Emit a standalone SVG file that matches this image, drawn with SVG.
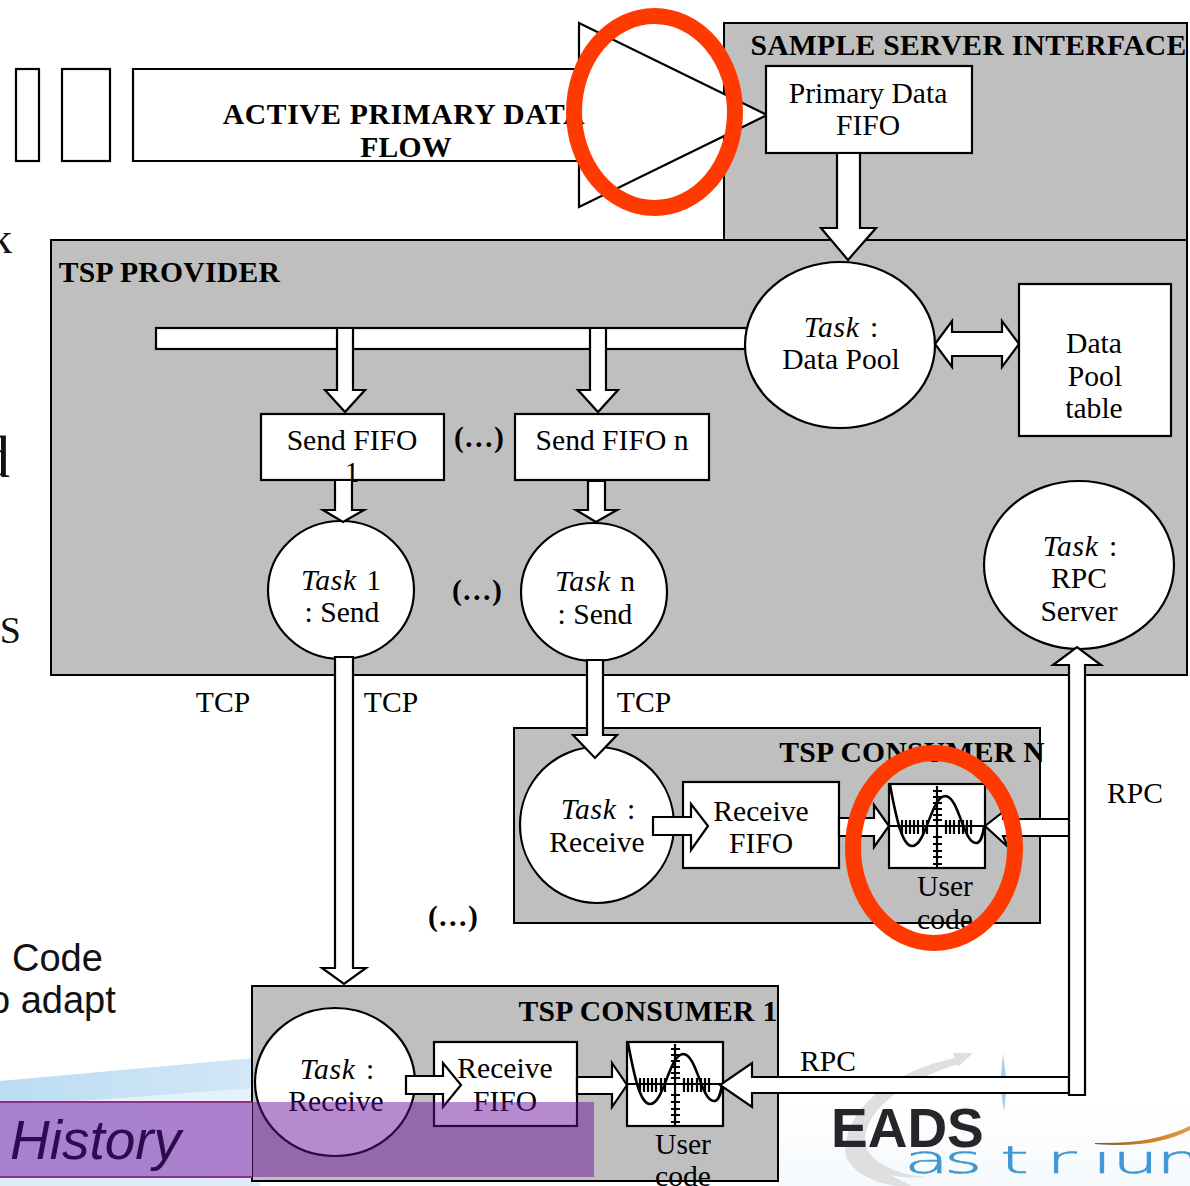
<svg xmlns="http://www.w3.org/2000/svg" width="1190" height="1186" viewBox="0 0 1190 1186">
<style>
.t{font-family:"Liberation Serif","Times New Roman",serif;font-size:29.6px;fill:#000;text-anchor:middle}
.b{font-weight:bold;letter-spacing:.3px}
.s{font-family:"Liberation Sans",Arial,sans-serif;font-size:38px;fill:#111}
.f{font-family:"Liberation Serif","Times New Roman",serif;fill:#111;text-anchor:end}
.i{font-style:italic;letter-spacing:.7px}
.g{fill:#bfbfbf;stroke:#000;stroke-width:2}
.w{fill:#fff;stroke:#000;stroke-width:2.2}
.a{fill:#fff;stroke:#000;stroke-width:2.2;stroke-linejoin:miter}
.r{fill:none;stroke:#ff3a00;stroke-width:16}
.p{fill:none;stroke:#000;stroke-width:2.2}
</style>
<defs>
<linearGradient id="sw" x1="0" y1="0" x2="1" y2="0"><stop offset="0" stop-color="#bcdcf2"/><stop offset="1" stop-color="#d3e7f8"/></linearGradient>
<linearGradient id="bd" x1="0" y1="0" x2="1" y2="0"><stop offset="0" stop-color="#a581cf"/><stop offset="1" stop-color="#ad80cc"/></linearGradient>
<linearGradient id="or" x1="0" y1="0" x2="1" y2="0"><stop offset="0" stop-color="#7a5a3a"/><stop offset=".5" stop-color="#c87a2a"/><stop offset="1" stop-color="#e49a3c"/></linearGradient>
<linearGradient id="fade" x1="0" y1="0" x2="0" y2="1"><stop offset="0" stop-color="#fff"/><stop offset="1" stop-color="#f5f9fc"/></linearGradient>
<clipPath id="nodot"><polygon points="900,1140 1092,1140 1092,1152 1112,1152 1112,1140 1190,1140 1190,1186 900,1186"/></clipPath>
<g id="plot">
<rect class="w" x="0" y="0" width="96" height="84"/>
<path class="p" d="M0 42H96M48 2V84M13 36V50M17 36V50M21 36V50M25 36V50M29 36V50M34 36V50M38 36V50M57 36V50M61 36V50M65 36V50M70 36V50M74 36V50M78 36V50M82 36V50M44 7H53M44 13H53M44 19H53M44 25H53M44 31H53M44 36H53M44 53H53M44 60H53M44 67H53M44 73H53M44 80H53"/>
<path fill="none" stroke="#000" stroke-width="2.6" d="M1 1C7 33 13 62 23 62C37 62 42 13 56 12C70 12 74 59 87 59C91 59 94 52 95 42"/>
</g>
</defs>
<rect width="1190" height="1186" fill="#fff"/>
<g id="background">
<rect x="778" y="1100" width="412" height="86" fill="url(#fade)"/>
<polygon points="0,1081 254,1058 254,1104 0,1104" fill="url(#sw)"/>
<polygon points="40,1104 254,1088 254,1104" fill="#e6f2fb"/>
<rect x="0" y="1176" width="260" height="10" fill="#dcecf8"/>
<path d="M955 1058C905 1068 848 1100 845 1150C846 1168 868 1182 897 1186L912 1186L890 1175C905 1178 918 1178 927 1177C895 1175 865 1160 865 1140C865 1110 905 1080 958 1064Z" fill="#dedfe0"/>
<polygon points="953,1053 973,1053 958,1067" fill="#dedfe0"/>
<path d="M1003 1053L1007 1085L1004 1112L1000 1085Z" fill="#a9cdec"/>
<path d="M1095 1143C1135 1144 1165 1138 1190 1126V1130C1165 1143 1135 1147 1095 1144Z" fill="url(#or)"/>
<text x="831" y="1147" font-family="Liberation Sans,Arial,sans-serif" font-weight="bold" font-size="55" fill="#26262a">EADS</text>
<g clip-path="url(#nodot)"><text transform="translate(0,1173) scale(2,1)" x="452 472 500 523 546 556 578" y="0" font-family="DejaVu Sans,sans-serif" font-weight="200" font-size="37" fill="#3f97d3" stroke="#3f97d3" stroke-width=".5">astrium</text></g>
<text class="f" x="12" y="253" font-size="44">k</text>
<text class="f" x="10" y="477" font-size="60">d</text>
<text class="f" x="21" y="643" font-size="38">KS</text>
<text class="s" x="12" y="971">Code</text>
<text class="s" x="-11" y="1013">o adapt</text>
</g>
<g id="sample-server">
<rect class="g" x="724" y="23" width="463" height="218"/>
<text class="t b" x="968.5" y="55">SAMPLE SERVER INTERFACE</text>
</g>
<g id="tsp-provider">
<rect class="g" x="51" y="240" width="1136" height="435"/>
<text class="t b" x="169.5" y="282">TSP PROVIDER</text>
</g>
<g id="tsp-consumer-n">
<rect class="g" x="514" y="728" width="526" height="195"/>
<text class="t b" x="912" y="762">TSP CONSUMER N</text>
</g>
<g id="tsp-consumer-1">
<rect class="g" x="252" y="986" width="526" height="195"/>
<text class="t b" x="648" y="1021">TSP CONSUMER 1</text>
</g>
<g id="active-flow">
<rect class="w" x="16" y="69" width="23" height="92"/>
<rect class="w" x="62" y="69" width="48" height="92"/>
<polygon class="a" points="133,69 579,69 579,23 767,115 579,207 579,161 133,161"/>
<text class="t b" x="404" y="124" style="letter-spacing:.65px">ACTIVE PRIMARY DATA</text>
<text class="t b" x="406" y="157">FLOW</text>
</g>
<g id="primary-fifo">
<rect class="w" x="766" y="66" width="206" height="87"/>
<text class="t" x="868" y="103">Primary Data</text>
<text class="t" x="868" y="135">FIFO</text>
</g>
<g id="bus"><rect class="w" x="156" y="328" width="591" height="21"/></g>
<g id="task-data-pool">
<ellipse class="w" cx="840" cy="345" rx="95" ry="83"/>
<text class="t" x="841" y="337"><tspan class="i">Task</tspan> <tspan dx="3">:</tspan></text>
<text class="t" x="841" y="369">Data Pool</text>
</g>
<g id="data-pool-table">
<rect class="w" x="1019" y="284" width="152" height="152"/>
<text class="t" x="1094" y="353">Data</text>
<text class="t" x="1095" y="386">Pool</text>
<text class="t" x="1094" y="418">table</text>
</g>
<g id="send-fifo-1">
<rect class="w" x="261" y="414" width="183" height="66"/>
<text class="t" x="352" y="450">Send FIFO</text>
<text class="t" x="352" y="482">1</text>
</g>
<g id="send-fifo-n">
<rect class="w" x="515" y="414" width="194" height="66"/>
<text class="t" x="612" y="450">Send FIFO n</text>
</g>
<g id="task-1">
<ellipse class="w" cx="341" cy="590" rx="73" ry="69"/>
<text class="t" x="341" y="590"><tspan class="i">Task</tspan> <tspan dx="2">1</tspan></text>
<text class="t" x="342" y="622">: Send</text>
</g>
<g id="task-n">
<ellipse class="w" cx="594" cy="592" rx="73" ry="69"/>
<text class="t" x="595" y="591"><tspan class="i">Task</tspan> <tspan dx="2">n</tspan></text>
<text class="t" x="595" y="624">: Send</text>
</g>
<g id="task-rpc">
<ellipse class="w" cx="1079" cy="565" rx="95" ry="84"/>
<text class="t" x="1080" y="556"><tspan class="i">Task</tspan> <tspan dx="3">:</tspan></text>
<text class="t" x="1079" y="588">RPC</text>
<text class="t" x="1079" y="621">Server</text>
</g>
<g id="task-receive-n">
<ellipse class="w" cx="597" cy="825" rx="77" ry="78"/>
<text class="t" x="598" y="819"><tspan class="i">Task</tspan> <tspan dx="3">:</tspan></text>
<text class="t" x="597" y="852">Receive</text>
</g>
<g id="receive-fifo-n">
<rect class="w" x="683" y="782" width="156" height="86"/>
<text class="t" x="761" y="821">Receive</text>
<text class="t" x="761" y="853">FIFO</text>
</g>
<g id="user-code-n">
<use href="#plot" x="889" y="784"/>
<text class="t" x="945" y="896">User</text>
<text class="t" x="945" y="929">code</text>
</g>
<g id="task-receive-1">
<ellipse class="w" cx="335" cy="1082" rx="80" ry="74"/>
<text class="t" x="337" y="1079"><tspan class="i">Task</tspan> <tspan dx="3">:</tspan></text>
<text class="t" x="336" y="1111">Receive</text>
</g>
<g id="receive-fifo-1">
<rect class="w" x="434" y="1042" width="143" height="84"/>
<text class="t" x="505" y="1078">Receive</text>
<text class="t" x="505" y="1111">FIFO</text>
</g>
<g id="user-code-1">
<use href="#plot" x="627" y="1042"/>
<text class="t" x="683" y="1154">User</text>
<text class="t" x="683" y="1186">code</text>
</g>
<g id="connectors">
<polygon class="a" points="837,153 860,153 860,228 876,228 848,260 821,228 837,228"/>
<polygon class="a" points="935,344 952,321 952,332 1002,332 1002,321 1019,344 1002,367 1002,356 952,356 952,367"/>
<polygon class="a" points="337,328 353,328 353,390 365,390 345,412 325,390 337,390"/>
<polygon class="a" points="590,328 606,328 606,390 618,390 598,412 578,390 590,390"/>
<polygon class="a" points="335,480 352,480 352,510 364,510 343,522 323,510 335,510"/>
<polygon class="a" points="588,481 605,481 605,510 617,510 596,522 576,510 588,510"/>
<polygon class="a" points="335,657 353,657 353,968 366,968 344,984 322,968 335,968"/>
<polygon class="a" points="587,660 603,660 603,735 617,735 595,758 573,735 587,735"/>
<polygon class="a" points="653,817 691,817 691,804 708,826 691,850 691,835 653,835"/>
<polygon class="a" points="839,818 874,818 874,805 889,826 874,847 874,836 839,836"/>
<polygon class="a" points="1070,819 1003,819 1003,812 985,826 1008,847 1003,836 1070,836"/>
<polygon class="a" points="406,1076 443,1076 443,1063 461,1085 443,1107 443,1094 406,1094"/>
<polygon class="a" points="577,1077 612,1077 612,1063 627,1085 612,1107 612,1094 577,1094"/>
<polygon class="a" points="1069,1077 752,1077 752,1063 720,1085 752,1107 752,1093 1069,1093"/>
<polygon class="a" points="1069,1095 1085,1095 1085,665 1101,665 1077,647 1053,665 1069,665"/>
</g>
<g id="labels">
<text class="t b" x="479" y="447">(…)</text>
<text class="t b" x="477" y="600">(…)</text>
<text class="t b" x="453" y="926">(…)</text>
<text class="t" x="223" y="712">TCP</text>
<text class="t" x="391" y="712">TCP</text>
<text class="t" x="644" y="712">TCP</text>
<text class="t" x="1135" y="803">RPC</text>
<text class="t" x="828" y="1071">RPC</text>
</g>
<g id="history">
<rect x="-2" y="1102" width="254" height="75" fill="url(#bd)"/>
<path d="M0 1102H252M0 1177H252" stroke="#8e2f8e" stroke-width="2" fill="none"/>
<rect x="252" y="1102" width="342" height="75" fill="#690b9b" fill-opacity=".48"/>
<text x="10" y="1159" font-family="Liberation Sans,Arial,sans-serif" font-style="italic" font-size="55" fill="#2e0a4e">History</text>
</g>
<g id="highlights">
<ellipse class="r" cx="654.5" cy="112" rx="80.5" ry="96"/>
<ellipse class="r" cx="934" cy="848" rx="81" ry="95"/>
</g>
</svg>
